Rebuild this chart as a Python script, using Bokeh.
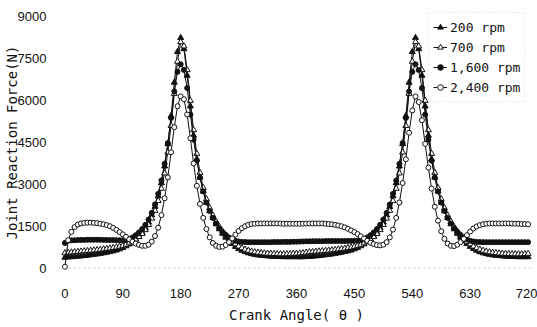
from bokeh.plotting import figure
from bokeh.models import Range1d, FixedTicker, Span, Legend, LegendItem
from bokeh.embed import file_html
from bokeh.resources import INLINE

angles = list(range(0, 725, 5))

rpm_200 = [
    380, 390, 400, 410, 420, 430, 440, 455, 470, 485, 500, 520, 540, 560, 585, 610, 640, 680,
    730, 790, 860, 940, 1030, 1140, 1280, 1440, 1640, 1900, 2200, 2580, 3050, 3650, 4450, 5450, 6650, 7750,
    8250, 7850, 6900, 5800, 4750, 3900, 3250, 2750, 2350, 2050, 1800, 1580, 1400, 1240, 1100, 980, 870, 770,
    690, 630, 580, 540, 510, 485, 465, 450, 440, 430, 420, 415, 410, 405, 400, 400, 400, 400,
    400,
    395, 400, 405, 410, 420, 430, 440, 455, 470, 485, 500, 520, 540, 560, 585, 610, 640, 680,
    730, 790, 860, 940, 1030, 1140, 1280, 1440, 1640, 1900, 2200, 2580, 3050, 3650, 4450, 5450, 6650, 7750,
    8250, 7850, 6900, 5800, 4750, 3900, 3250, 2750, 2350, 2050, 1800, 1580, 1400, 1240, 1100, 980, 870, 770,
    690, 630, 580, 540, 510, 485, 465, 450, 440, 430, 420, 415, 410, 405, 400, 400, 400, 400,
]

rpm_700 = [
    540, 555, 570, 580, 590, 600, 610, 620, 630, 640, 650, 665, 680, 695, 710, 730, 750, 775,
    805, 845, 895, 955, 1030, 1120, 1230, 1370, 1550, 1780, 2060, 2410, 2850, 3400, 4150, 5100, 6250, 7400,
    8100, 7950, 7100, 6000, 4950, 4100, 3420, 2880, 2470, 2150, 1890, 1670, 1480, 1320, 1180, 1060, 950, 860,
    780, 720, 670, 630, 600, 575, 560, 545, 535, 525, 520, 515, 510, 505, 505, 505, 510, 520,
    525,
    530, 545, 560, 575, 585, 595, 605, 615, 625, 635, 645, 660, 675, 690, 705, 725, 745, 770,
    805, 845, 895, 955, 1030, 1120, 1230, 1370, 1550, 1780, 2060, 2410, 2850, 3400, 4150, 5100, 6250, 7400,
    8100, 7950, 7100, 6000, 4950, 4100, 3420, 2880, 2470, 2150, 1890, 1670, 1480, 1320, 1180, 1060, 950, 860,
    780, 720, 670, 630, 600, 575, 560, 545, 535, 525, 520, 515, 510, 505, 505, 505, 510, 520,
]

rpm_1600 = [
    900, 980, 995, 1000, 1005, 1010, 1010, 1015, 1015, 1015, 1015, 1015, 1010, 1010, 1005, 1005, 1000, 1000,
    1000, 1010, 1040, 1100, 1180, 1280, 1400, 1550, 1740, 1980, 2280, 2660, 3140, 3740, 4480, 5380, 6330, 7030,
    7300, 7100, 6450, 5500, 4600, 3850, 3250, 2750, 2350, 2050, 1800, 1600, 1430, 1300, 1190, 1100, 1030, 980,
    955, 940, 935, 930, 930, 930, 930, 930, 930, 930, 930, 935, 935, 935, 940, 940, 940, 945,
    945,
    950, 955, 960, 960, 965, 965, 965, 965, 970, 970, 970, 970, 970, 970, 970, 975, 975, 980,
    990, 1010, 1040, 1100, 1180, 1280, 1400, 1550, 1740, 1980, 2280, 2660, 3140, 3740, 4480, 5380, 6330, 7030,
    7300, 7100, 6450, 5500, 4600, 3850, 3250, 2750, 2350, 2050, 1800, 1600, 1430, 1300, 1190, 1100, 1030, 980,
    955, 940, 935, 930, 930, 930, 930, 930, 930, 930, 930, 930, 930, 930, 930, 930, 930, 930,
]

rpm_2400 = [
    50, 1000, 1300, 1470, 1560, 1600, 1620, 1630, 1630, 1620, 1610, 1590, 1570, 1540, 1500, 1440, 1370, 1290,
    1210, 1120, 1030, 950, 880, 830, 800, 800, 840, 950, 1150, 1450, 1900, 2500, 3250, 4150, 5050, 5800,
    6150, 6050, 5500, 4650, 3750, 2950, 2300, 1800, 1400, 1100, 900, 800, 760, 770, 830, 930, 1060, 1200,
    1330, 1430, 1500, 1550, 1580, 1590, 1600, 1600, 1600, 1600, 1600, 1600, 1600, 1600, 1590, 1590, 1590, 1590,
    1590,
    1590, 1590, 1595, 1600, 1600, 1600, 1600, 1600, 1590, 1580, 1570, 1550, 1530, 1500, 1460, 1410, 1350, 1290,
    1220, 1140, 1060, 980, 910, 860, 825, 815, 840, 930, 1100, 1380, 1800, 2350, 3050, 3900, 4850, 5650,
    6150, 5950, 5300, 4450, 3600, 2850, 2200, 1700, 1320, 1050, 880, 800, 790, 840, 930, 1050, 1180, 1310,
    1420, 1490, 1540, 1570, 1590, 1600, 1600, 1600, 1600, 1600, 1600, 1600, 1600, 1590, 1590, 1580, 1580, 1570,
]

series_labels = ["200 rpm", "700 rpm", "1,600 rpm", "2,400 rpm"]
x_ticks = [0, 90, 180, 270, 360, 450, 540, 630, 720]
y_ticks = [0, 1500, 3000, 4500, 6000, 7500, 9000]
x_title = "Crank Angle( \u03b8 )"
y_title = "Joint Reaction Force(N)"

INK = "#111111"

p = figure(width=537, height=327, output_backend="svg", toolbar_location=None,
           x_range=Range1d(-10, 730), y_range=Range1d(-300, 9300),
           min_border_left=58, min_border_right=3, min_border_top=8, min_border_bottom=51)
p.background_fill_color = "white"
p.border_fill_color = "white"
p.outline_line_color = None
p.xgrid.visible = False
p.ygrid.visible = False

for ax in (p.xaxis[0], p.yaxis[0]):
    ax.axis_line_color = None
    ax.major_tick_line_color = None
    ax.minor_tick_line_color = None
    ax.major_label_text_font = "Liberation Sans"
    ax.major_label_text_font_size = "13px"
    ax.major_label_text_color = INK
    ax.axis_label_text_font = "DejaVu Sans Mono"
    ax.axis_label_text_font_size = "14px"
    ax.axis_label_text_font_style = "normal"
    ax.axis_label_text_color = INK
p.xaxis[0].ticker = FixedTicker(ticks=x_ticks)
p.yaxis[0].ticker = FixedTicker(ticks=y_ticks)
p.xaxis[0].major_label_standoff = 6
p.yaxis[0].major_label_standoff = 6
p.xaxis[0].axis_label = x_title
p.yaxis[0].axis_label = y_title
p.xaxis[0].axis_label_standoff = 6
p.yaxis[0].axis_label_standoff = -5

p.add_layout(Span(location=0, dimension="width", line_color="#c4c4c4",
                  line_dash="2 3", line_width=1))

styles = [
    dict(marker="triangle", size=6, fill_color=INK),
    dict(marker="triangle", size=6, fill_color="white"),
    dict(marker="circle", size=5, fill_color=INK),
    dict(marker="circle", size=5, fill_color="white"),
]
data = [rpm_200, rpm_700, rpm_1600, rpm_2400]

items = []
for lab, ys, st in zip(series_labels, data, styles):
    l = p.line(angles, ys, line_color=INK, line_width=1)
    s = p.scatter(angles, ys, marker=st["marker"], size=st["size"],
                  fill_color=st["fill_color"], line_color=INK, line_width=1)
    items.append(LegendItem(label=lab, renderers=[l, s]))

legend = Legend(items=items, location=(370, 174), margin=0, padding=4,
                spacing=0, label_height=20, glyph_height=20, glyph_width=14,
                label_standoff=3, label_text_font="DejaVu Sans Mono",
                label_text_font_size="13px", label_text_color=INK,
                border_line_color="#dddddd", border_line_dash="1 3",
                background_fill_color="white", background_fill_alpha=1.0)
p.add_layout(legend)

open("out.html", "w").write(file_html(p, INLINE))
